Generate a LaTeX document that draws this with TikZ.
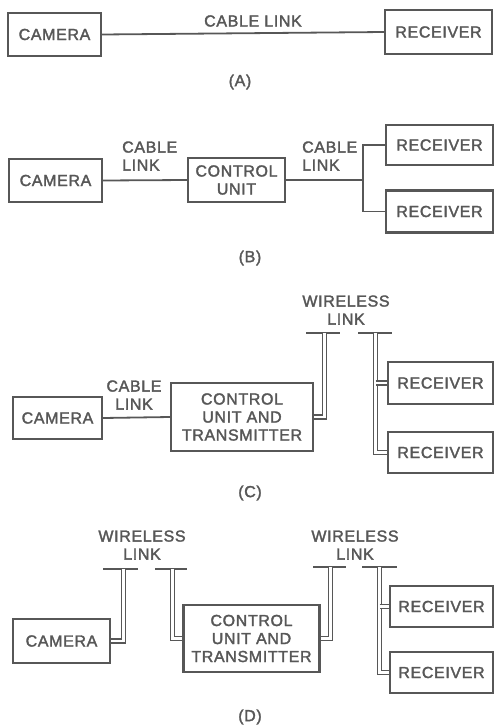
\documentclass[tikz,border=0pt]{standalone}
\usepackage{fontspec}
\setmainfont[FakeBold=2,LetterSpace=4]{Liberation Sans}
\definecolor{ink}{gray}{0.34}
\begin{document}
\begin{tikzpicture}[x=1pt,y=-1pt,
  every node/.style={text=ink,font=\fontsize{16}{18}\selectfont},
  box/.style={draw=ink,line width=2.1pt,inner sep=0pt,align=center,minimum width=#1},
  box/.default=95pt,
  wire/.style={draw=ink,line width=1.8pt},
  twin/.style={draw=ink,line width=1.5pt,double=white,double distance=2.4pt,line join=miter},
  lbl/.style={align=center,inner sep=0pt},
  captext/.style={inner sep=0pt}]
\useasboundingbox (0,0) rectangle (495,726);
% ---------------- (A)
\node[box=93pt,minimum height=43pt] (camA) at (54.5,34.5) {CAMERA};
\node[box=107pt,minimum height=44pt] (recA) at (438.5,32) {RECEIVER};
\draw[wire] (camA.east) -- (recA.west);
\node[lbl] (labA) at (253,21) {CABLE LINK};
\node[captext] (capA) at (240,82) {(A)};
% ---------------- (B)
\node[box=93pt,minimum height=43pt] (camB) at (55.5,180.5) {CAMERA};
\node[box=97pt,minimum height=44pt] (cuB) at (236.5,180) {CONTROL\\UNIT};
\node[box=107pt,minimum height=40pt] (recB1) at (439.5,145) {RECEIVER};
\node[box=107pt,minimum height=42pt] (recB2) at (439.5,211.5) {RECEIVER};
\coordinate (jB) at (363,180);
\draw[wire] (camB.east) -- (cuB.west);
\draw[wire] (cuB.east) -- (jB);
\draw[wire] (recB1.west) -| (jB) |- (recB2.west);
\node[lbl,align=left,anchor=west] (labB1) at (122,156) {CABLE\\LINK};
\node[lbl,align=left,anchor=west] (labB2) at (302,156) {CABLE\\LINK};
\node[captext] (capB) at (250,258) {(B)};
% ---------------- (C)
\node[box=89pt,minimum height=42pt] (camC) at (57.5,418) {CAMERA};
\node[box=142pt,minimum height=68pt] (cuC) at (242,417) {CONTROL\\UNIT AND\\TRANSMITTER};
\node[box=105pt,minimum height=42pt] (recC1) at (440.5,383) {RECEIVER};
\node[box=105pt,minimum height=41pt] (recC2) at (440.5,452.5) {RECEIVER};
\draw[wire] (camC.east) -- (cuC.west);
\node[lbl] (labC1) at (134,395) {CABLE\\LINK};
\node[lbl] (labC2) at (346,310) {WIRELESS\\LINK};
% antenna at transmitter
\coordinate (aC1) at (324.5,333);
\draw[wire] (306,333) -- (340,333);
\draw[twin] (aC1) |- (cuC.east);
% antenna at receivers
\coordinate (aC2) at (375.5,333);
\draw[wire] (358,333) -- (392,333);
\draw[twin] (aC2) |- (recC2.west);
\draw[twin] (aC2 |- recC1.west) -- (recC1.west);
\node[captext] (capC) at (250,493) {(C)};
% ---------------- (D)
\node[box=97pt,minimum height=44pt] (camD) at (61.5,641) {CAMERA};
\node[box=136pt,minimum height=67pt] (cuD) at (251.5,638.5) {CONTROL\\UNIT AND\\TRANSMITTER};
\node[box=103pt,minimum height=41pt] (recD1) at (441.5,606.5) {RECEIVER};
\node[box=103pt,minimum height=41pt] (recD2) at (441.5,672.5) {RECEIVER};
\node[lbl] (labD1) at (142,545) {WIRELESS\\LINK};
\node[lbl] (labD2) at (355,545) {WIRELESS\\LINK};
% antenna at camera
\coordinate (aD1) at (123.5,569);
\draw[wire] (103,569) -- (138,569);
\draw[twin] (aD1) |- (camD.east);
% antenna at control unit (receive)
\coordinate (aD2) at (172.5,569);
\draw[wire] (155,569) -- (187,569);
\draw[twin] (aD2) |- (cuD.west);
% antenna at control unit (transmit)
\coordinate (aD3) at (330.5,567);
\draw[wire] (313,567) -- (346,567);
\draw[twin] (aD3) |- (cuD.east);
% antenna at receivers
\coordinate (aD4) at (379.5,567);
\draw[wire] (362,567) -- (397,567);
\draw[twin] (aD4) |- (recD2.west);
\draw[twin] (aD4 |- recD1.west) -- (recD1.west);
\node[captext] (capD) at (250,717) {(D)};
\end{tikzpicture}
\end{document}
